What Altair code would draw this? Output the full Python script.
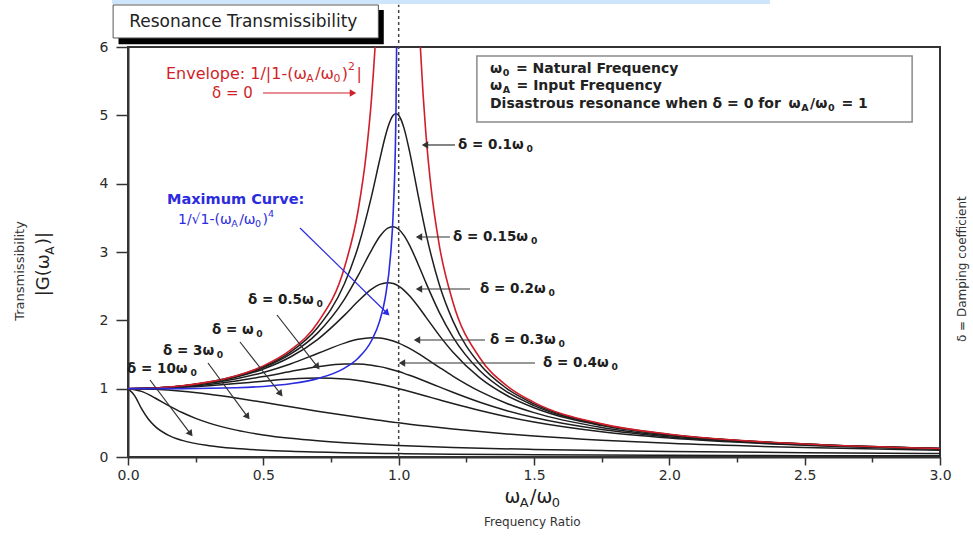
import math
import altair as alt
import pandas as pd

# ------------------------------------------------------------------
# Values (frequency ratio -> |G|)
# ------------------------------------------------------------------
R_01 = [0, 0.1, 0.2, 0.3, 0.4, 0.5, 0.6, 0.7, 0.8, 0.85, 0.9, 0.93, 0.95, 0.96, 0.98, 0.99,
        1.0, 1.01, 1.02, 1.04, 1.07, 1.1, 1.15, 1.2, 1.3, 1.4, 1.5, 1.75, 2.0, 2.5, 3.0]
G_01 = [1, 1.0099, 1.0408, 1.0965, 1.1851, 1.3216, 1.5357, 1.8908, 2.5383, 3.0727, 3.8208,
        4.350, 4.683, 4.822, 5.001, 5.025, 5.0, 4.926, 4.809, 4.476, 3.869, 3.288, 2.5246,
        1.9952, 1.3562, 1.0, 0.7779, 0.478, 0.3304, 0.1896, 0.1247]

R_GRID = [0, 0.1, 0.2, 0.3, 0.4, 0.5, 0.6, 0.7, 0.8, 0.85, 0.9, 0.93, 0.96, 0.98, 1.0,
          1.02, 1.04, 1.07, 1.1, 1.15, 1.2, 1.3, 1.4, 1.5, 1.75, 2.0, 2.5, 3.0]
G_015 = [1, 1.0096, 1.0396, 1.0936, 1.1785, 1.3074, 1.5041, 1.8131, 2.3112, 2.6534, 3.0289,
         3.2259, 3.3503, 3.3709, 3.3333, 3.2399, 3.1008, 2.8393, 2.5566, 2.1175, 1.759,
         1.2617, 0.9543, 0.7527, 0.4699, 0.3269, 0.1886, 0.1242]
G_02 = [1, 1.0093, 1.0381, 1.0895, 1.1695, 1.2883, 1.463, 1.7188, 2.0761, 2.2786, 2.4566,
        2.5267, 2.5515, 2.5381, 2.5, 2.439, 2.3589, 2.213, 2.0511, 1.780, 1.5357, 1.1574,
        0.8998, 0.7212, 0.4591, 0.3221, 0.1871, 0.1236]
G_03 = [1, 1.0082, 1.0336, 1.078, 1.1447, 1.238, 1.3619, 1.5136, 1.6667, 1.7223, 1.7469,
        1.7418, 1.7203, 1.6968, 1.6667, 1.6304, 1.589, 1.5194, 1.4438, 1.3129, 1.1851,
        0.9603, 0.7839, 0.6492, 0.4321, 0.3095, 0.1831, 0.1220]
G_04 = [1, 1.0068, 1.0275, 1.0626, 1.1125, 1.1765, 1.25, 1.3203, 1.3619, 1.3616, 1.3429,
        1.3225, 1.2954, 1.2739, 1.25, 1.224, 1.1962, 1.1518, 1.1053, 1.0258, 0.9469,
        0.8012, 0.6779, 0.5771, 0.4012, 0.2941, 0.178, 0.1197]
G_05 = [1, 1.005, 1.0198, 1.0437, 1.0748, 1.1094, 1.1399, 1.1546, 1.1399, 1.1184, 1.0871,
        1.0641, 1.0382, 1.0196, 1.0, 0.9796, 0.9586, 0.9261, 0.893, 0.8373, 0.7824,
        0.6795, 0.5891, 0.5121, 0.3697, 0.2774, 0.172, 0.117]
G_1 = [1, 0.9901, 0.9615, 0.9174, 0.8621, 0.8, 0.7353, 0.6711, 0.6098, 0.5806, 0.5525,
       0.5362, 0.5204, 0.5101, 0.5, 0.4901, 0.4804, 0.4662, 0.4525, 0.4305, 0.4098,
       0.3717, 0.3378, 0.3077, 0.2462, 0.2, 0.1379, 0.1]

R_3 = [0, 0.05, 0.1, 0.15, 0.2, 0.25, 0.3, 0.4, 0.5, 0.6, 0.7, 0.8, 0.9, 1.0, 1.2, 1.5,
       1.75, 2.0, 2.5, 3.0]
G_3 = [1, 0.960, 0.8638, 0.7526, 0.6507, 0.5653, 0.4958, 0.3933, 0.3234, 0.2735, 0.2364,
       0.2077, 0.1851, 0.1667, 0.1386, 0.1101, 0.0935, 0.0808, 0.0629, 0.0508]

R_10 = [0, 0.025, 0.05, 0.075, 0.1, 0.15, 0.2, 0.3, 0.4, 0.5, 0.6, 0.8, 1.0, 1.2, 1.5, 2.0,
        2.5, 3.0]
G_10 = [1, 0.8949, 0.708, 0.5557, 0.4481, 0.3169, 0.2431, 0.1648, 0.1243, 0.0997, 0.0832,
        0.0625, 0.05, 0.0417, 0.0333, 0.0249, 0.0199, 0.0165]

# envelope 1/|1-r^2| (two branches, clipped at the top of the plot)
ENV_L_X = [0, 0.1, 0.2, 0.3, 0.4, 0.5, 0.6, 0.7, 0.8, 0.85, 0.88, 0.9, 0.92, 0.93]
ENV_L_Y = [1, 1.0101, 1.0417, 1.0989, 1.1905, 1.3333, 1.5625, 1.9608, 2.7778, 3.6036,
           4.433, 5.263, 6.51, 7.40]
ENV_R_X = [1.07, 1.08, 1.09, 1.1, 1.12, 1.15, 1.2, 1.3, 1.4, 1.5, 1.75, 2.0, 2.5, 3.0]
ENV_R_Y = [6.90, 6.01, 5.32, 4.762, 3.93, 3.101, 2.273, 1.449, 1.0417, 0.8, 0.4848,
           0.3333, 0.1905, 0.125]

# maximum curve
MAX_X = [0, 0.2, 0.4, 0.5, 0.6, 0.7, 0.8, 0.85, 0.9, 0.93, 0.95, 0.97, 0.98, 0.99, 0.995]
MAX_Y = [1, 1.0008, 1.013, 1.0328, 1.0719, 1.147, 1.301, 1.446, 1.705, 1.992, 2.322,
         2.953, 3.59, 5.04, 7.09]

X_TICKS = [0.0, 0.25, 0.5, 0.75, 1.0, 1.25, 1.5, 1.75, 2.0, 2.25, 2.5, 2.75, 3.0]
Y_TICKS = [0, 0.5, 1, 1.5, 2, 2.5, 3, 3.5, 4, 4.5, 5, 5.5, 6]

CURVES = [("0.1", R_01, G_01), ("0.15", R_GRID, G_015), ("0.2", R_GRID, G_02),
          ("0.3", R_GRID, G_03), ("0.4", R_GRID, G_04), ("0.5", R_GRID, G_05),
          ("1", R_GRID, G_1), ("3", R_3, G_3), ("10", R_10, G_10)]

# ------------------------------------------------------------------
# Layout / style
# ------------------------------------------------------------------
W, H = 812, 410
PAD = {"left": 128, "top": 47, "right": 33, "bottom": 85}
SX, SY = W / 3.0, H / 6.0
RED, BLUE, INK = "#d01f2a", "#2b2be0", "#1e1e1e"

xs = alt.Scale(domain=[0, 3], nice=False, zero=False)
ys = alt.Scale(domain=[0, 6], nice=False, zero=False)

DJV = {" ": .318, "(": .390, ")": .390, "-": .361, ".": .318, "/": .337, ":": .337,
       "=": .838, "|": .337, "√": .636, "ω": .80, "δ": .62,
       "A": .684, "C": .698, "D": .770, "E": .632, "F": .575, "G": .775, "I": .295,
       "M": .863, "N": .748, "R": .695, "T": .611,
       "a": .613, "b": .635, "c": .550, "d": .635, "e": .615, "f": .352, "g": .635,
       "h": .634, "i": .278, "k": .579, "l": .278, "m": .974, "n": .634, "o": .612,
       "p": .635, "q": .635, "r": .411, "s": .521, "t": .392, "u": .634, "v": .592,
       "w": .818, "x": .592, "y": .592}
for d in "0123456789":
    DJV[d] = .636


def text_rows(parts, x, y, size, color, bold=False, align="left", angle=0):
    k = 1.13 if bold else 1.0
    items, total = [], 0.0
    for t, kind in parts:
        s = size if kind == "n" else round(size * 0.68, 2)
        lead = len(t) - len(t.lstrip(" "))
        w_lead = lead * DJV[" "] * s * k
        w = sum(DJV.get(c, 0.6) for c in t) * s * k + (1.5 if kind != "n" else 0.0)
        items.append((t.strip(" "), kind, s, w_lead, w))
        total += w
    along = {"left": 0.0, "center": -total / 2, "right": -total}[align]
    th = math.radians(angle)
    ux, uy = math.cos(th), math.sin(th)
    vx, vy = -math.sin(th), math.cos(th)
    out = []
    for t, kind, s, w_lead, w in items:
        down = {"n": 0.0, "sub": 0.32 * size, "sup": -0.42 * size}[kind]
        a = along + w_lead
        dx = a * ux + down * vx
        dy = a * uy + down * vy
        out.append({"x": x + dx / SX, "y": y - dy / SY, "text": t, "size": s,
                    "col": color, "ang": angle, "wt": "bold" if bold else "normal"})
        along += w
    return out


def dlabel(coef):
    return [("δ = " + coef + "ω", "n"), ("0", "sub")]


T = []
T += text_rows([("Resonance Transmissibility", "n")], 0.432, 6.366, 17, "#222", align="center")
T += text_rows([("ω", "n"), ("0", "sub"), (" = Natural Frequency", "n")], 1.3374, 5.678, 14, "#222", bold=True)
T += text_rows([("ω", "n"), ("A", "sub"), (" = Input Frequency", "n")], 1.3374, 5.429, 14, "#222", bold=True)
T += text_rows([("Disastrous resonance when δ = 0 for ", "n"), ("ω", "n"), ("A", "sub"), ("/ω", "n"),
                ("0", "sub"), (" = 1", "n")], 1.3374, 5.166, 14, "#222", bold=True)
T += text_rows([("Envelope: 1/|1-(ω", "n"), ("A", "sub"), ("/ω", "n"), ("0", "sub"), (")", "n"),
                ("2", "sup"), ("|", "n")], 0.1404, 5.605, 16, RED)
T += text_rows([("δ = 0", "n")], 0.3103, 5.327, 15, RED)
T += text_rows([("Maximum Curve:", "n")], 0.1441, 3.76, 14.5, BLUE, bold=True)
T += text_rows([("1/√1-(ω", "n"), ("A", "sub"), ("/ω", "n"), ("0", "sub"), (")", "n"), ("4", "sup")],
               0.1847, 3.47, 14, BLUE)
for coef, lx, ly in [("0.1", 1.2192, 4.566), ("0.15", 1.2007, 3.2196), ("0.2", 1.3005, 2.4586),
                     ("0.3", 1.3374, 1.7122), ("0.4", 1.5333, 1.3756), ("0.5", 0.4434, 2.2976),
                     ("", 0.3103, 1.8585), ("3", 0.1293, 1.5512), ("10", -0.0037, 1.2878)]:
    T += text_rows(dlabel(coef), lx, ly, 13.5, INK, bold=True)
T += text_rows([("Transmissibility", "n")], -0.399, 2.737, 13, "#333", align="center", angle=270)
T += text_rows([("|G(ω", "n"), ("A", "sub"), (")|", "n")], -0.3103, 2.824, 18, "#222", align="center", angle=270)
T += text_rows([("δ = Damping coefficient", "n")], 3.0813, 2.751, 12, "#333", align="center", angle=270)
T += text_rows([("ω", "n"), ("A", "sub"), ("/ω", "n"), ("0", "sub")], 1.4963, -0.5854, 19, "#222", align="center")
T += text_rows([("Frequency Ratio", "n")], 1.4963, -0.9512, 12, "#333", align="center")
texts = pd.DataFrame(T)

# boxes (drawn in order: strip, shadow, title box, note box)
STRIP = pd.DataFrame([{"x": -0.059, "x2": 2.372, "y": 6.63, "y2": 6.72}])
SHADOW = pd.DataFrame([{"x": -0.035, "x2": 0.945, "y": 6.04, "y2": 6.54}])
TITLE_BOX = pd.DataFrame([{"x": -0.055, "x2": 0.925, "y": 6.132, "y2": 6.615}])
NOTE_BOX = pd.DataFrame([{"x": 1.289, "x2": 2.897, "y": 4.902, "y2": 5.868}])

# arrows (start -> tip)
ARROWS = [((0.4988, 5.327), (0.846, 5.327), RED),
          ((0.6355, 3.351), (0.968, 2.063), BLUE),
          ((1.2081, 4.566), (1.0825, 4.566), "#333"),
          ((1.1897, 3.2196), (1.0603, 3.2196), "#333"),
          ((1.2636, 2.4586), (1.0603, 2.4586), "#333"),
          ((1.319, 1.7122), (1.0529, 1.7122), "#333"),
          ((1.5037, 1.3756), (0.9975, 1.3756), "#333"),
          ((0.5505, 2.078), (0.7094, 1.2732), "#333"),
          ((0.4138, 1.683), (0.5727, 0.878), "#333"),
          ((0.2956, 1.3756), (0.4507, 0.5415), "#333"),
          ((0.0813, 1.1268), (0.2401, 0.2927), "#333")]
lines, heads = [], []
for (x1, y1), (x2, y2), c in ARROWS:
    dxp, dyp = (x2 - x1) * SX, (y2 - y1) * SY
    L = math.hypot(dxp, dyp)
    ang = math.degrees(math.atan2(dxp, dyp)) % 360
    hx, hy = x2 - 4 * dxp / L / SX, y2 - 4 * dyp / L / SY
    lines.append({"x": x1, "y": y1, "x2": hx, "y2": hy, "col": c})
    heads.append({"x": hx, "y": hy, "ang": ang, "col": c})
lines = pd.DataFrame(lines)
heads = pd.DataFrame(heads)

rows = []
for name, rx, gy in CURVES:
    for a, b in zip(rx, gy):
        rows.append({"r": a, "g": b, "curve": name})
curves = pd.DataFrame(rows)
env = pd.DataFrame([{"r": a, "g": b, "seg": "L"} for a, b in zip(ENV_L_X, ENV_L_Y)] +
                   [{"r": a, "g": b, "seg": "R"} for a, b in zip(ENV_R_X, ENV_R_Y)])
mx = pd.DataFrame({"r": MAX_X, "g": MAX_Y})
vline = pd.DataFrame([{"x": 1.0, "y": 0.0, "y2": 6.62}])


# ------------------------------------------------------------------
# Layers
# ------------------------------------------------------------------
def rect_layer(df, fill, stroke=None, sw=0):
    kw = {"fill": fill}
    if stroke is not None:
        kw["stroke"] = stroke
        kw["strokeWidth"] = sw
    return alt.Chart(df).mark_rect(**kw).encode(
        x=alt.X("x:Q", scale=xs, title=None), x2="x2",
        y=alt.Y("y:Q", scale=ys, title=None), y2="y2")


strip_layer = rect_layer(STRIP, "#cfe5fb")
shadow_layer = rect_layer(SHADOW, "#000000")
title_box_layer = rect_layer(TITLE_BOX, "#ffffff", "#555555", 1)
note_box_layer = rect_layer(NOTE_BOX, "#ffffff", "#8a8a8a", 1.5)

vline_layer = alt.Chart(vline).mark_rule(color="#444", strokeWidth=1.5, strokeDash=[3, 3]).encode(
    x=alt.X("x:Q", scale=xs, title=None), y=alt.Y("y:Q", scale=ys, title=None), y2="y2")

x_axis = alt.Axis(values=X_TICKS, labelExpr="datum.value % 0.5 === 0 ? format(datum.value, '.1f') : ''",
                  tickSize={"condition": {"test": "datum.value % 0.5 === 0", "value": 8}, "value": 5},
                  labelPadding=3, labelFlush=False, labelOverlap=False, title=None)
y_axis = alt.Axis(values=Y_TICKS, labelExpr="datum.value % 1 === 0 ? format(datum.value, 'd') : ''",
                  tickSize={"condition": {"test": "datum.value % 1 === 0", "value": 12}, "value": 6},
                  labelPadding=8, labelFlush=False, labelOverlap=False, title=None)

curve_layer = alt.Chart(curves).mark_line(color=INK, strokeWidth=1.5, interpolate="monotone").encode(
    x=alt.X("r:Q", scale=xs, axis=x_axis, title=None),
    y=alt.Y("g:Q", scale=ys, axis=y_axis, title=None),
    detail="curve:N")

env_layer = alt.Chart(env).mark_line(color=RED, strokeWidth=1.6, interpolate="monotone", clip=True).encode(
    x=alt.X("r:Q", scale=xs, title=None), y=alt.Y("g:Q", scale=ys, title=None), detail="seg:N")

max_layer = alt.Chart(mx).mark_line(color=BLUE, strokeWidth=1.6, interpolate="monotone", clip=True).encode(
    x=alt.X("r:Q", scale=xs, title=None), y=alt.Y("g:Q", scale=ys, title=None))

line_layer = alt.Chart(lines).mark_rule(strokeWidth=1.2).encode(
    x=alt.X("x:Q", scale=xs, title=None), y=alt.Y("y:Q", scale=ys, title=None), x2="x2", y2="y2",
    color=alt.Color("col:N", scale=None, legend=None))

head_layer = alt.Chart(heads).mark_point(shape="triangle-up", filled=True, size=55, opacity=1,
                                         strokeWidth=0).encode(
    x=alt.X("x:Q", scale=xs, title=None), y=alt.Y("y:Q", scale=ys, title=None),
    angle=alt.Angle("ang:Q", scale=None, legend=None),
    color=alt.Color("col:N", scale=None, legend=None))

text_layers = []
for wt in ["normal", "bold"]:
    sub = texts[texts["wt"] == wt]
    text_layers.append(alt.Chart(sub).mark_text(align="left", baseline="middle", font="DejaVu Sans",
                                                fontWeight=wt).encode(
        x=alt.X("x:Q", scale=xs, title=None), y=alt.Y("y:Q", scale=ys, title=None),
        text="text:N",
        size=alt.Size("size:Q", scale=None, legend=None),
        color=alt.Color("col:N", scale=None, legend=None),
        angle=alt.Angle("ang:Q", scale=None, legend=None)))

chart = alt.layer(strip_layer, shadow_layer, title_box_layer, note_box_layer, vline_layer,
                  curve_layer, env_layer, max_layer, line_layer, head_layer,
                  *text_layers).properties(
    width=W, height=H, autosize=alt.AutoSizeParams(type="none"), padding=PAD, background="white"
).configure_view(stroke="#333", strokeWidth=2).configure_axis(
    grid=False, domainColor="#333", domainWidth=2, tickColor="#333", tickWidth=1.5,
    labelColor="#2b2b2b", labelFont="DejaVu Sans", labelFontSize=14)

chart.save("out.html", embed_options={"renderer": "svg", "actions": False})
